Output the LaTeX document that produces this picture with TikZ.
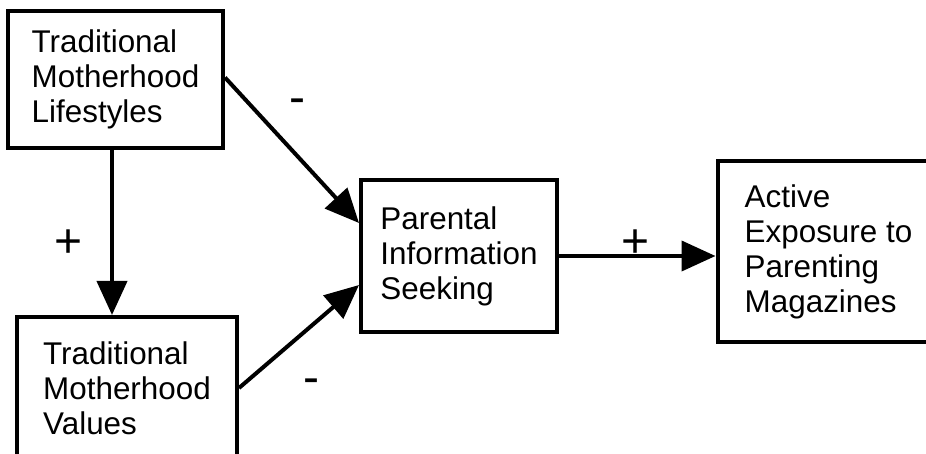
\documentclass[tikz,border=0pt]{standalone}
\usepackage{fontspec}
\setmainfont{Liberation Sans}
\usetikzlibrary{arrows.meta}

\begin{document}
\begin{tikzpicture}[
  x=0.5pt, y=-0.5pt,
  box/.style={
    draw,
    line width=2pt,
    align=left,
    font=\fontsize{15.7}{17.5}\selectfont
  },
  sign/.style={font=\fontsize{24}{24}\selectfont},
  link/.style={-{Triangle[length=17pt,width=15pt]},line width=2pt}
]
  \useasboundingbox (0,0) rectangle (926,454);

  \node[box,minimum width=107.5pt,minimum height=68.5pt] (life) at (115.5,79.5)
    {Traditional\\Motherhood\\Lifestyles};
  \node[box,minimum width=110pt,minimum height=71pt] (val) at (127,388)
    {Traditional\\Motherhood\\Values};
  \node[box,minimum width=98pt,minimum height=76pt] (pis) at (459,256)
    {Parental\\Information\\Seeking};
  \node[box,minimum width=111pt,minimum height=90.5pt] (act) at (828.5,251.5)
    {Active\\Exposure to\\Parenting\\Magazines};

  \draw[link] ([xshift=-1.75pt]life.south) -- ([xshift=-1.75pt]life.south |- val.north);
  \draw[link] ([yshift=1pt]life.east) -- ([yshift=16.5pt]pis.west);
  \draw[link] (val.east) -- ([yshift=-14.5pt]pis.west);
  \draw[link] (pis.east) -- (pis.east -| act.west);

  \node[sign] (lifeToPis) at (297,106) {-};
  \node[sign] (lifeToVal) at (69,244) {+};
  \node[sign] (valToPis) at (311,386) {-};
  \node[sign] (pisToAct) at (636,244) {+};
\end{tikzpicture}
\end{document}
